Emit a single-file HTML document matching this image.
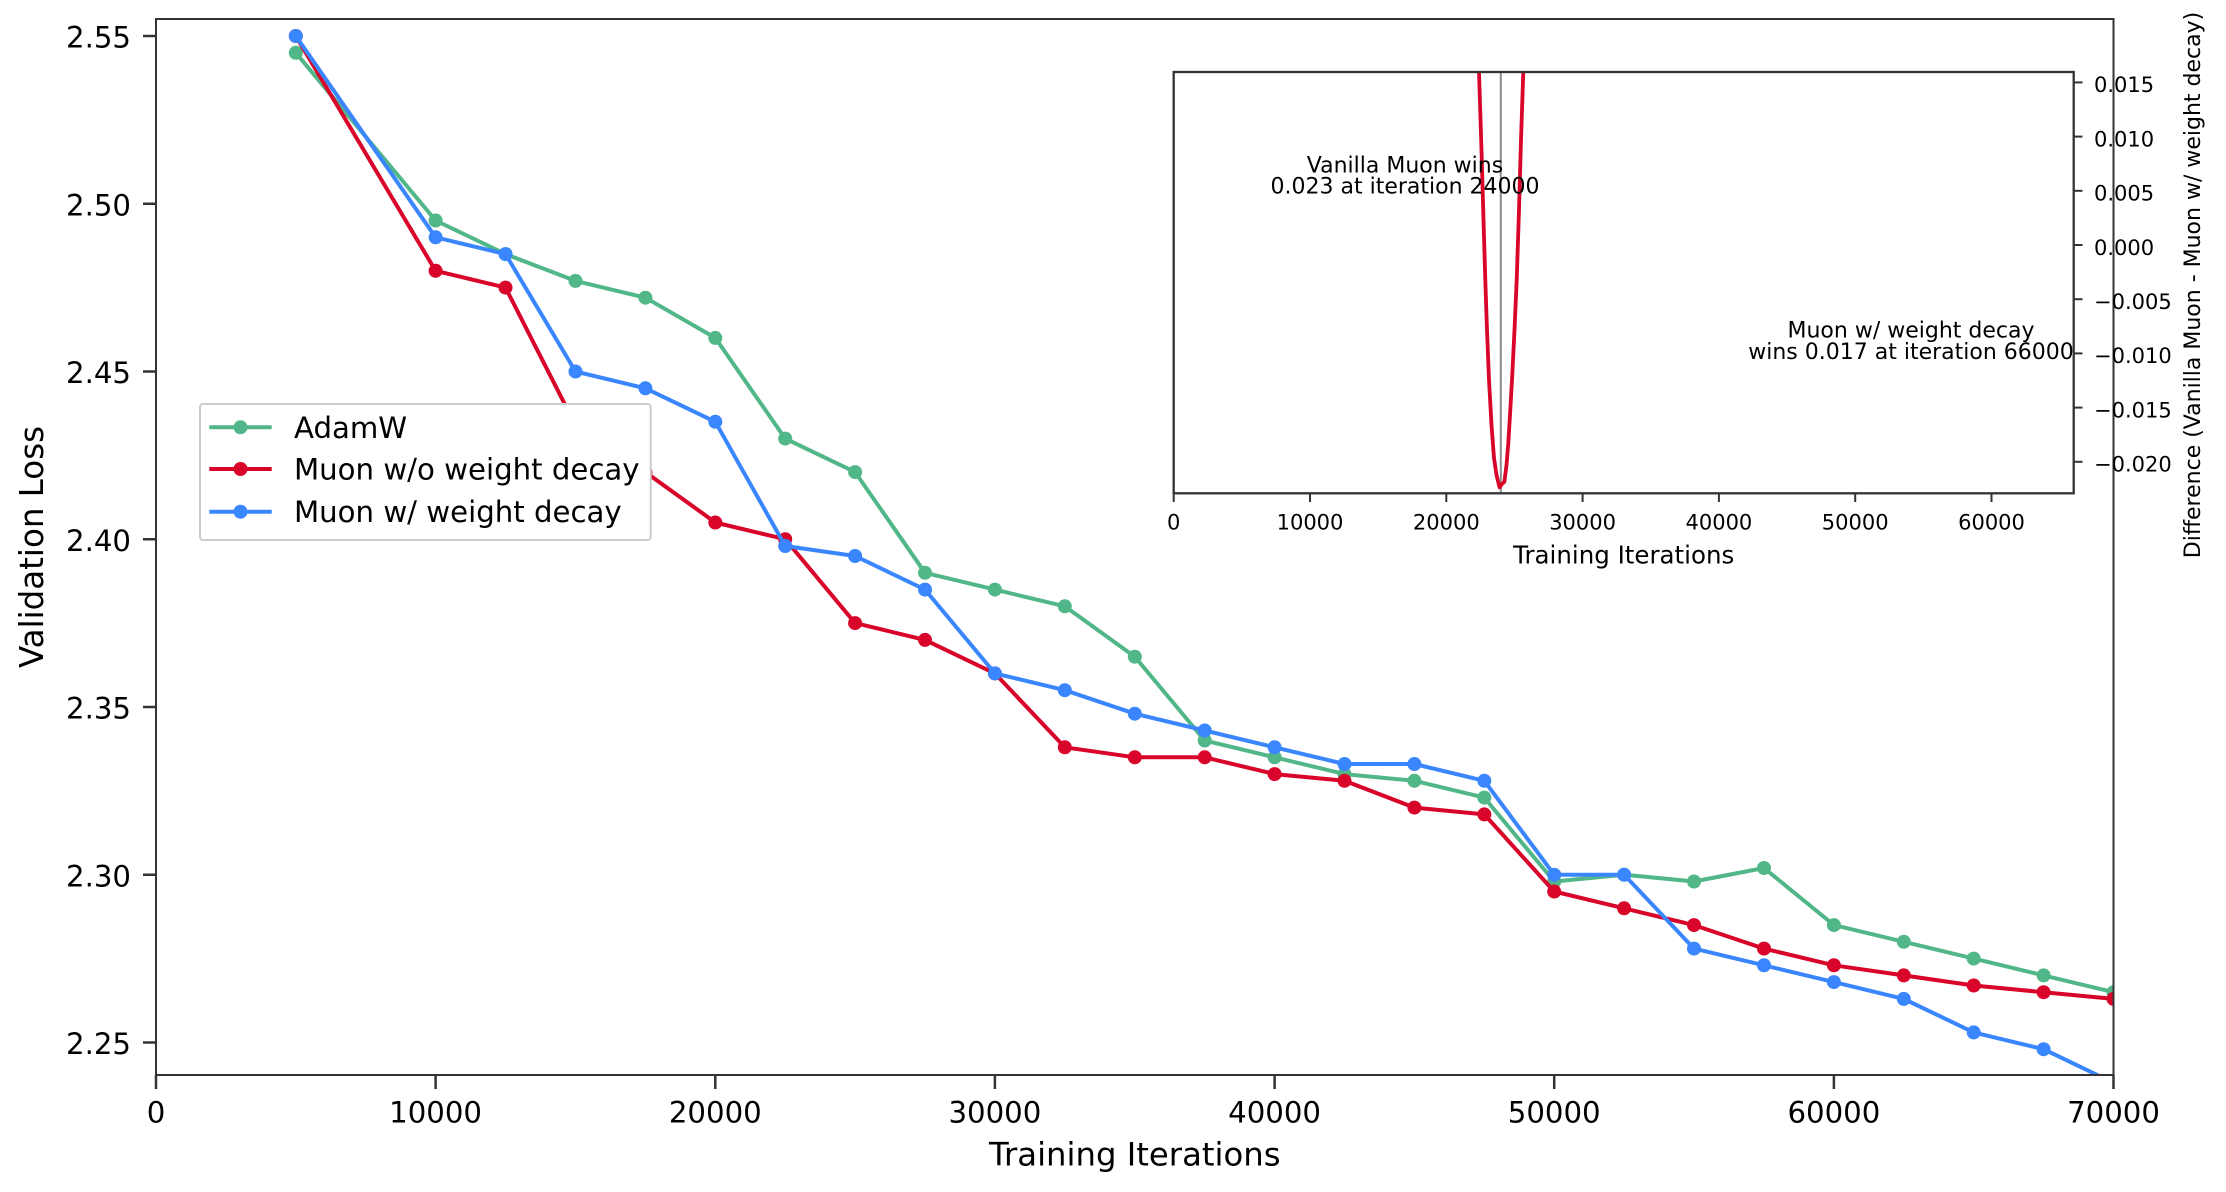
<!DOCTYPE html>
<html>
<head>
<meta charset="utf-8">
<style>
html,body{margin:0;padding:0;background:#fff;}
svg{display:block;}
text{font-family:"DejaVu Sans","Liberation Sans",sans-serif;fill:#000;}
</style>
</head>
<body>
<svg width="2226" height="1192" viewBox="0 0 2226 1192" xmlns="http://www.w3.org/2000/svg">
<defs>
<clipPath id="mainclip"><rect x="156" y="19" width="1957.5" height="1056"/></clipPath>
<clipPath id="insetclip"><rect x="1173.7" y="72" width="900" height="421.3"/></clipPath>
</defs>
<rect x="0" y="0" width="2226" height="1192" fill="#fff"/>

<!-- main series -->
<g clip-path="url(#mainclip)" fill="none" stroke-width="4" stroke-linejoin="round" stroke-linecap="round">
<polyline stroke="#52b788" points="295.8,52.8 435.6,220.5 505.5,254.1 575.5,280.9 645.4,297.7 715.3,337.9 785.2,438.6 855.1,472.1 925.0,572.8 994.9,589.6 1064.8,606.3 1134.8,656.7 1204.7,740.5 1274.6,757.3 1344.5,774.1 1414.4,780.8 1484.3,797.6 1554.2,881.5 1624.1,874.7 1694.0,881.5 1764.0,868.0 1833.9,925.1 1903.8,941.8 1973.7,958.6 2043.6,975.4 2113.5,992.2"/>
<g fill="#52b788" stroke="none">
<circle cx="295.8" cy="52.8" r="7"/><circle cx="435.6" cy="220.5" r="7"/><circle cx="505.5" cy="254.1" r="7"/><circle cx="575.5" cy="280.9" r="7"/><circle cx="645.4" cy="297.7" r="7"/><circle cx="715.3" cy="337.9" r="7"/><circle cx="785.2" cy="438.6" r="7"/><circle cx="855.1" cy="472.1" r="7"/><circle cx="925.0" cy="572.8" r="7"/><circle cx="994.9" cy="589.6" r="7"/><circle cx="1064.8" cy="606.3" r="7"/><circle cx="1134.8" cy="656.7" r="7"/><circle cx="1204.7" cy="740.5" r="7"/><circle cx="1274.6" cy="757.3" r="7"/><circle cx="1344.5" cy="774.1" r="7"/><circle cx="1414.4" cy="780.8" r="7"/><circle cx="1484.3" cy="797.6" r="7"/><circle cx="1554.2" cy="881.5" r="7"/><circle cx="1624.1" cy="874.7" r="7"/><circle cx="1694.0" cy="881.5" r="7"/><circle cx="1764.0" cy="868.0" r="7"/><circle cx="1833.9" cy="925.1" r="7"/><circle cx="1903.8" cy="941.8" r="7"/><circle cx="1973.7" cy="958.6" r="7"/><circle cx="2043.6" cy="975.4" r="7"/><circle cx="2113.5" cy="992.2" r="7"/>
</g>

<polyline stroke="#d90429" points="295.8,36.0 435.6,270.8 505.5,287.6 575.5,425.2 645.4,472.1 715.3,522.5 785.2,539.2 855.1,623.1 925.0,639.9 994.9,673.4 1064.8,747.3 1134.8,757.3 1204.7,757.3 1274.6,774.1 1344.5,780.8 1414.4,807.6 1484.3,814.4 1554.2,891.5 1624.1,908.3 1694.0,925.1 1764.0,948.6 1833.9,965.3 1903.8,975.4 1973.7,985.5 2043.6,992.2 2113.5,998.9"/>
<g fill="#d90429" stroke="none">
<circle cx="295.8" cy="36.0" r="7"/><circle cx="435.6" cy="270.8" r="7"/><circle cx="505.5" cy="287.6" r="7"/><circle cx="575.5" cy="425.2" r="7"/><circle cx="645.4" cy="472.1" r="7"/><circle cx="715.3" cy="522.5" r="7"/><circle cx="785.2" cy="539.2" r="7"/><circle cx="855.1" cy="623.1" r="7"/><circle cx="925.0" cy="639.9" r="7"/><circle cx="994.9" cy="673.4" r="7"/><circle cx="1064.8" cy="747.3" r="7"/><circle cx="1134.8" cy="757.3" r="7"/><circle cx="1204.7" cy="757.3" r="7"/><circle cx="1274.6" cy="774.1" r="7"/><circle cx="1344.5" cy="780.8" r="7"/><circle cx="1414.4" cy="807.6" r="7"/><circle cx="1484.3" cy="814.4" r="7"/><circle cx="1554.2" cy="891.5" r="7"/><circle cx="1624.1" cy="908.3" r="7"/><circle cx="1694.0" cy="925.1" r="7"/><circle cx="1764.0" cy="948.6" r="7"/><circle cx="1833.9" cy="965.3" r="7"/><circle cx="1903.8" cy="975.4" r="7"/><circle cx="1973.7" cy="985.5" r="7"/><circle cx="2043.6" cy="992.2" r="7"/><circle cx="2113.5" cy="998.9" r="7"/>
</g>

<polyline stroke="#3a86ff" points="295.8,36.0 435.6,237.3 505.5,254.1 575.5,371.5 645.4,388.3 715.3,421.8 785.2,546.0 855.1,556.0 925.0,589.6 994.9,673.4 1064.8,690.2 1134.8,713.7 1204.7,730.5 1274.6,747.3 1344.5,764.0 1414.4,764.0 1484.3,780.8 1554.2,874.7 1624.1,874.7 1694.0,948.6 1764.0,965.3 1833.9,982.1 1903.8,998.9 1973.7,1032.4 2043.6,1049.2 2113.5,1082.8"/>
<g fill="#3a86ff" stroke="none">
<circle cx="295.8" cy="36.0" r="7"/><circle cx="435.6" cy="237.3" r="7"/><circle cx="505.5" cy="254.1" r="7"/><circle cx="575.5" cy="371.5" r="7"/><circle cx="645.4" cy="388.3" r="7"/><circle cx="715.3" cy="421.8" r="7"/><circle cx="785.2" cy="546.0" r="7"/><circle cx="855.1" cy="556.0" r="7"/><circle cx="925.0" cy="589.6" r="7"/><circle cx="994.9" cy="673.4" r="7"/><circle cx="1064.8" cy="690.2" r="7"/><circle cx="1134.8" cy="713.7" r="7"/><circle cx="1204.7" cy="730.5" r="7"/><circle cx="1274.6" cy="747.3" r="7"/><circle cx="1344.5" cy="764.0" r="7"/><circle cx="1414.4" cy="764.0" r="7"/><circle cx="1484.3" cy="780.8" r="7"/><circle cx="1554.2" cy="874.7" r="7"/><circle cx="1624.1" cy="874.7" r="7"/><circle cx="1694.0" cy="948.6" r="7"/><circle cx="1764.0" cy="965.3" r="7"/><circle cx="1833.9" cy="982.1" r="7"/><circle cx="1903.8" cy="998.9" r="7"/><circle cx="1973.7" cy="1032.4" r="7"/><circle cx="2043.6" cy="1049.2" r="7"/><circle cx="2113.5" cy="1082.8" r="7"/>
</g>
</g>

<!-- main spines -->
<rect x="156" y="19" width="1957.5" height="1056" fill="none" stroke="#333" stroke-width="2"/>

<!-- main y ticks -->
<g stroke="#333" stroke-width="2.5">
<line x1="143" y1="36.0" x2="156" y2="36.0"/>
<line x1="143" y1="203.75" x2="156" y2="203.75"/>
<line x1="143" y1="371.5" x2="156" y2="371.5"/>
<line x1="143" y1="539.25" x2="156" y2="539.25"/>
<line x1="143" y1="707.0" x2="156" y2="707.0"/>
<line x1="143" y1="874.75" x2="156" y2="874.75"/>
<line x1="143" y1="1042.5" x2="156" y2="1042.5"/>
</g>
<g font-size="29.2" text-anchor="end">
<text x="131" y="47.7">2.55</text>
<text x="131" y="215.4">2.50</text>
<text x="131" y="383.2">2.45</text>
<text x="131" y="550.9">2.40</text>
<text x="131" y="718.7">2.35</text>
<text x="131" y="886.4">2.30</text>
<text x="131" y="1054.2">2.25</text>
</g>

<!-- main x ticks -->
<g stroke="#333" stroke-width="2.5">
<line x1="156" y1="1075" x2="156" y2="1089"/>
<line x1="435.6" y1="1075" x2="435.6" y2="1089"/>
<line x1="715.3" y1="1075" x2="715.3" y2="1089"/>
<line x1="994.9" y1="1075" x2="994.9" y2="1089"/>
<line x1="1274.6" y1="1075" x2="1274.6" y2="1089"/>
<line x1="1554.2" y1="1075" x2="1554.2" y2="1089"/>
<line x1="1833.9" y1="1075" x2="1833.9" y2="1089"/>
<line x1="2113.5" y1="1075" x2="2113.5" y2="1089"/>
</g>
<g font-size="29.2" text-anchor="middle">
<text x="156" y="1122.5">0</text>
<text x="435.6" y="1122.5">10000</text>
<text x="715.3" y="1122.5">20000</text>
<text x="994.9" y="1122.5">30000</text>
<text x="1274.6" y="1122.5">40000</text>
<text x="1554.2" y="1122.5">50000</text>
<text x="1833.9" y="1122.5">60000</text>
<text x="2113.5" y="1122.5">70000</text>
</g>

<text x="1134.8" y="1165.7" font-size="32.3" text-anchor="middle">Training Iterations</text>
<text transform="translate(43,547) rotate(-90)" font-size="32.5" text-anchor="middle">Validation Loss</text>

<!-- legend -->
<rect x="200" y="404" width="450.7" height="136" rx="3" ry="3" fill="#fff" stroke="#cccccc" stroke-width="2"/>
<g stroke-width="4" stroke-linecap="butt">
<line x1="209.3" y1="427.3" x2="271.7" y2="427.3" stroke="#52b788"/>
<line x1="209.3" y1="469" x2="271.7" y2="469" stroke="#d90429"/>
<line x1="209.3" y1="511.7" x2="271.7" y2="511.7" stroke="#3a86ff"/>
</g>
<circle cx="240.5" cy="427.3" r="7" fill="#52b788"/>
<circle cx="240.5" cy="469" r="7" fill="#d90429"/>
<circle cx="240.5" cy="511.7" r="7" fill="#3a86ff"/>
<g font-size="29.2">
<text x="294" y="438">AdamW</text>
<text x="294" y="479.5">Muon w/o weight decay</text>
<text x="294" y="522.2">Muon w/ weight decay</text>
</g>

<!-- inset -->
<rect x="1173.7" y="72" width="900" height="421.3" fill="#fff"/>
<g clip-path="url(#insetclip)">
<line x1="1500.8" y1="72" x2="1500.8" y2="493.3" stroke="#8c8c8c" stroke-width="2"/>
<polyline fill="none" stroke="#d90429" stroke-width="3.8" stroke-linejoin="round" points="1478.6,50 1479,72 1481.5,150 1483.5,220 1485.3,280 1487,330 1489,380 1491.5,425 1494,458 1496.5,475 1499.5,487.3 1502,484 1504.4,481.7 1506.5,465 1508.3,443.3 1510,415 1512,380 1514.5,330 1516.7,280 1519,210 1521,140 1523.3,72 1524,50"/>
</g>
<rect x="1173.7" y="72" width="900" height="421.3" fill="none" stroke="#333" stroke-width="2.3"/>

<g font-size="22" text-anchor="middle">
<text x="1405" y="172.3">Vanilla Muon wins</text>
<text x="1405" y="193.3">0.023 at iteration 24000</text>
<text x="1911" y="337.7">Muon w/ weight decay</text>
<text x="1911" y="359">wins 0.017 at iteration 66000</text>
</g>

<!-- inset right y ticks -->
<g stroke="#333" stroke-width="2">
<line x1="2073.7" y1="82.4" x2="2082.5" y2="82.4"/>
<line x1="2073.7" y1="136.6" x2="2082.5" y2="136.6"/>
<line x1="2073.7" y1="190.8" x2="2082.5" y2="190.8"/>
<line x1="2073.7" y1="245" x2="2082.5" y2="245"/>
<line x1="2073.7" y1="299.2" x2="2082.5" y2="299.2"/>
<line x1="2073.7" y1="353.4" x2="2082.5" y2="353.4"/>
<line x1="2073.7" y1="407.6" x2="2082.5" y2="407.6"/>
<line x1="2073.7" y1="461.8" x2="2082.5" y2="461.8"/>
</g>
<g font-size="21" text-anchor="start">
<text x="2094" y="92.2">0.015</text>
<text x="2094" y="146.4">0.010</text>
<text x="2094" y="200.6">0.005</text>
<text x="2094" y="254.8">0.000</text>
<text x="2094" y="309">−0.005</text>
<text x="2094" y="363.2">−0.010</text>
<text x="2094" y="417.4">−0.015</text>
<text x="2094" y="471.6">−0.020</text>
</g>
<text transform="translate(2200,285) rotate(-90)" font-size="22" text-anchor="middle">Difference (Vanilla Muon - Muon w/ weight decay)</text>

<!-- inset x ticks -->
<g stroke="#333" stroke-width="2">
<line x1="1173.7" y1="493.3" x2="1173.7" y2="502"/>
<line x1="1310" y1="493.3" x2="1310" y2="502"/>
<line x1="1446.3" y1="493.3" x2="1446.3" y2="502"/>
<line x1="1582.6" y1="493.3" x2="1582.6" y2="502"/>
<line x1="1718.9" y1="493.3" x2="1718.9" y2="502"/>
<line x1="1855.2" y1="493.3" x2="1855.2" y2="502"/>
<line x1="1991.5" y1="493.3" x2="1991.5" y2="502"/>
</g>
<g font-size="21" text-anchor="middle">
<text x="1173.7" y="529.3">0</text>
<text x="1310" y="529.3">10000</text>
<text x="1446.3" y="529.3">20000</text>
<text x="1582.6" y="529.3">30000</text>
<text x="1718.9" y="529.3">40000</text>
<text x="1855.2" y="529.3">50000</text>
<text x="1991.5" y="529.3">60000</text>
</g>
<text x="1623.7" y="563.3" font-size="24.5" text-anchor="middle">Training Iterations</text>
</svg>
</body>
</html>
